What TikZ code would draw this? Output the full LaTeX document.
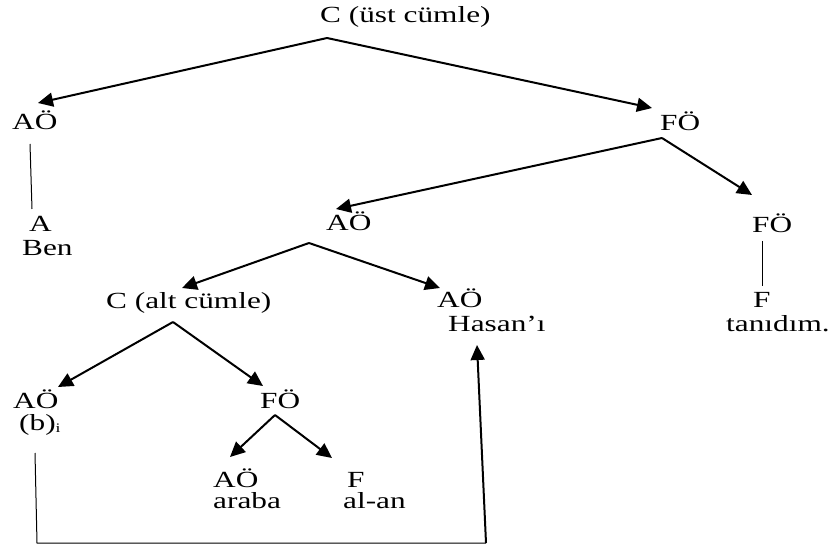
\documentclass[tikz,border=0pt]{standalone}
\usepackage{fontspec}
\setmainfont[FakeStretch=1.355]{Liberation Serif}
\usetikzlibrary{arrows.meta}
\begin{document}
\begin{tikzpicture}[x=1pt,y=-1pt,
  lbl/.style={anchor=base west, inner sep=0pt, font=\fontsize{23.1}{24}\selectfont},
  arr/.style={line width=2pt, -{Triangle[length=15pt,width=14pt]}},
  plain/.style={line width=1pt}]
\useasboundingbox (0,0) rectangle (831,548);

% labels
\node[lbl] (root) at (320,23) {C (üst cümle)};
\node[lbl] (aoL) at (12,130) {AÖ};
\node[lbl] (aLetter) at (29,232) {A};
\node[lbl] (ben) at (22,256) {Ben};
\node[lbl] (foTop) at (660,131) {FÖ};
\node[lbl] (aoMid) at (326,231) {AÖ};
\node[lbl] (foR) at (752,233) {FÖ};
\node[lbl] (fR) at (753,308) {F};
\node[lbl] (tanidim) at (726,332) {tanıdım.};
\node[lbl] (altC) at (106,309) {C (alt cümle)};
\node[lbl] (aoHasan) at (437,308) {AÖ};
\node[lbl] (hasan) at (448,332) {Hasan’ı};
\node[lbl] (aoB) at (13,408) {AÖ};
\node[lbl] (bi) at (19,430) {(b)\raisebox{-2pt}{\fontsize{13}{13}\selectfont i}};
\node[lbl] (foLow) at (260,408) {FÖ};
\node[lbl] (aoAraba) at (213,487) {AÖ};
\node[lbl] (araba) at (213,508) {araba};
\node[lbl] (fAlan) at (347,487) {F};
\node[lbl] (alan) at (343,508) {al-an};

% branch points and arrow tips
\coordinate (rootApex) at (327,38);
\coordinate (aoLTip) at (38,103);
\coordinate (foTopTip) at (652,108);
\coordinate (foTopApex) at (662,138);
\coordinate (aoMidTip) at (336,209);
\coordinate (foRTip) at (752,195);
\coordinate (aoMidApex) at (309,243);
\coordinate (altCTip) at (182,288);
\coordinate (aoHasanTip) at (440,288);
\coordinate (altCApex) at (173,322);
\coordinate (aoBTip) at (58,387);
\coordinate (foLowTip) at (263,386);
\coordinate (foLowApex) at (275,415);
\coordinate (arabaTip) at (230,457);
\coordinate (alanTip) at (332,458);
\coordinate (aoLFoot) at (30,144);
\coordinate (aLetterTop) at (32,209);
\coordinate (foRFoot) at (762,241);
\coordinate (fRTop) at (762,286);
\coordinate (biFoot) at (35,453);
\coordinate (bracketLeft) at (37,543);
\coordinate (bracketRight) at (486,543);
\coordinate (hasanTip) at (477,345);

% tree edges
\draw[arr] (rootApex) -- (aoLTip);
\draw[arr] (rootApex) -- (foTopTip);
\draw[arr] (foTopApex) -- (aoMidTip);
\draw[arr] (foTopApex) -- (foRTip);
\draw[arr] (aoMidApex) -- (altCTip);
\draw[arr] (aoMidApex) -- (aoHasanTip);
\draw[arr] (altCApex) -- (aoBTip);
\draw[arr] (altCApex) -- (foLowTip);
\draw[arr] (foLowApex) -- (arabaTip);
\draw[arr] (foLowApex) -- (alanTip);
\draw[plain] (aoLFoot) -- (aLetterTop);
\draw[plain] (foRFoot) -- (fRTop);

% coindexation link from (b)i to Hasan'ı
\draw[plain] (biFoot) -- (bracketLeft) -- (bracketRight);
\draw[arr] (bracketRight) -- (hasanTip);
\end{tikzpicture}
\end{document}
